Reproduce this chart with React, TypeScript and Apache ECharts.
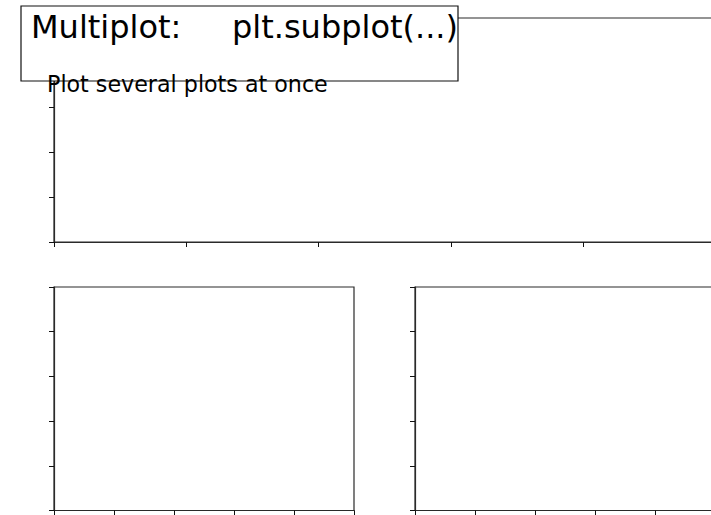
import React, { useEffect, useRef } from "react";
import * as echarts from "echarts";

// Tick positions (no labels are shown in the reference)
const topXTicks = [0, 0.2, 0.4, 0.6, 0.8, 1.0];
const topYTicks = [0, 0.2, 0.4, 0.6, 0.8, 1.0];
const bottomXTicks = [0, 0.2, 0.4, 0.6, 0.8, 1.0];
const bottomYTicks = [0, 0.2, 0.4, 0.6, 0.8, 1.0];
const titleMain = "Multiplot:";
const titleCode = "plt.subplot(...)";
const subtitle = "Plot several plots at once";

const W = 711;
const H = 515;
const SPINE = "#2a2a2a";
const FONT = "DejaVu Sans";

function axisPair(gridIndex: number, xt: number[], yt: number[]) {
  const common = {
    gridIndex,
    type: "value" as const,
    axisLabel: { show: false },
    splitLine: { show: false },
    axisLine: { show: true, lineStyle: { color: SPINE, width: 1.2 } },
    axisTick: { show: true, inside: false, length: 5, lineStyle: { color: "#111", width: 1 } },
  };
  return {
    x: { ...common, min: xt[0], max: xt[xt.length - 1], interval: xt[1] - xt[0] },
    y: { ...common, min: yt[0], max: yt[yt.length - 1], interval: yt[1] - yt[0] },
  };
}

export default function App() {
  const ref = useRef<HTMLDivElement>(null);
  useEffect(() => {
    if (!ref.current) return;
    const chart = echarts.init(ref.current, null, { renderer: "svg" });
    const a0 = axisPair(0, topXTicks, topYTicks);
    const a1 = axisPair(1, bottomXTicks, bottomYTicks);
    const a2 = axisPair(2, bottomXTicks, bottomYTicks);
    const gridBase = {
      show: true,
      borderColor: SPINE,
      borderWidth: 1.2,
      backgroundColor: "#fff",
      containLabel: false,
      outerBoundsMode: "none",
    };
    chart.setOption({
      animation: false,
      backgroundColor: "#fff",
      grid: [
        { ...gridBase, left: 54, top: 18, width: 661.5, height: 224 },
        { ...gridBase, left: 54, top: 287, width: 300, height: 223.5 },
        { ...gridBase, left: 415, top: 287, width: 300, height: 223.5 },
      ],
      xAxis: [a0.x, a1.x, a2.x],
      yAxis: [a0.y, a1.y, a2.y],
      series: [
        { type: "line", xAxisIndex: 0, yAxisIndex: 0, data: [] },
        { type: "line", xAxisIndex: 1, yAxisIndex: 1, data: [] },
        { type: "line", xAxisIndex: 2, yAxisIndex: 2, data: [] },
      ],
      graphic: [
        {
          type: "rect",
          z: 100,
          shape: { x: 21, y: 6, width: 437, height: 75 },
          style: { fill: "#fff", stroke: "#111", lineWidth: 1.2 },
        },
        {
          type: "text",
          z: 101,
          x: 31,
          y: 27.2,
          style: { text: titleMain, fontFamily: FONT, fontSize: 32, fill: "#000", verticalAlign: "middle", align: "left" },
        },
        {
          type: "text",
          z: 101,
          x: 232,
          y: 27.2,
          style: { text: titleCode, fontFamily: FONT, fontSize: 32, fill: "#000", verticalAlign: "middle", align: "left" },
        },
        {
          type: "text",
          z: 101,
          x: 47,
          y: 84,
          style: { text: subtitle, fontFamily: FONT, fontSize: 22.2, fill: "#000", verticalAlign: "middle", align: "left" },
        },
      ],
    });
    return () => chart.dispose();
  }, []);
  return (
    <div
      ref={ref}
      style={{ position: "fixed", left: 0, top: 0, width: W, height: H, background: "#fff" }}
    />
  );
}
